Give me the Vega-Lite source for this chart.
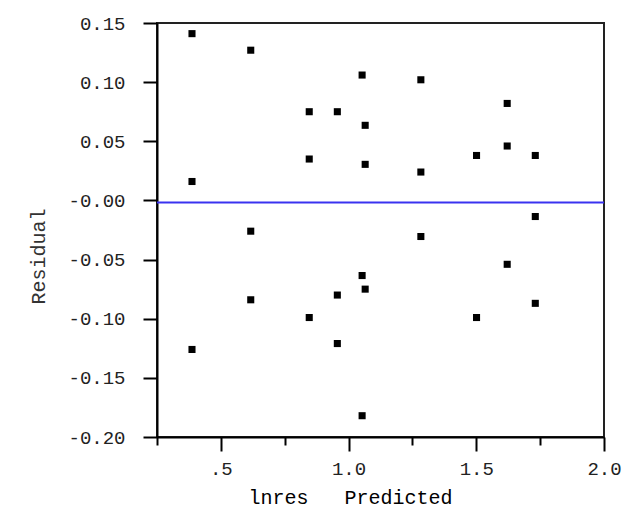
{
  "$schema": "https://vega.github.io/schema/vega-lite/v6.json",
  "width": 447,
  "height": 414,
  "autosize": {"type": "none"},
  "padding": {"left": 157, "top": 23, "right": 22, "bottom": 92},
  "background": "white",
  "config": {
    "view": {"stroke": "#222222", "strokeWidth": 2},
    "axis": {"labelFont": "Liberation Mono", "titleFont": "Liberation Mono", "grid": false}
  },
  "datasets": {
    "resid": [
      {"predicted": 0.387, "residual": 0.141},
      {"predicted": 0.387, "residual": 0.016},
      {"predicted": 0.387, "residual": -0.126},
      {"predicted": 0.617, "residual": 0.127},
      {"predicted": 0.617, "residual": -0.026},
      {"predicted": 0.617, "residual": -0.084},
      {"predicted": 0.846, "residual": 0.075},
      {"predicted": 0.846, "residual": 0.035},
      {"predicted": 0.846, "residual": -0.099},
      {"predicted": 0.956, "residual": 0.075},
      {"predicted": 0.956, "residual": -0.080},
      {"predicted": 0.956, "residual": -0.121},
      {"predicted": 1.053, "residual": 0.106},
      {"predicted": 1.053, "residual": -0.0635},
      {"predicted": 1.053, "residual": -0.182},
      {"predicted": 1.065, "residual": 0.0635},
      {"predicted": 1.065, "residual": 0.0305},
      {"predicted": 1.065, "residual": -0.075},
      {"predicted": 1.283, "residual": 0.102},
      {"predicted": 1.283, "residual": 0.024},
      {"predicted": 1.283, "residual": -0.0305},
      {"predicted": 1.501, "residual": 0.038},
      {"predicted": 1.501, "residual": -0.099},
      {"predicted": 1.621, "residual": 0.082},
      {"predicted": 1.621, "residual": 0.046},
      {"predicted": 1.621, "residual": -0.054},
      {"predicted": 1.731, "residual": 0.038},
      {"predicted": 1.731, "residual": -0.0136},
      {"predicted": 1.731, "residual": -0.087}
    ],
    "minor": [
      {"predicted": 0.25},
      {"predicted": 0.75},
      {"predicted": 1.25},
      {"predicted": 1.75}
    ],
    "zeroline": [
      {"residual": -0.0017}
    ]
  },
  "layer": [
    {
      "data": {"name": "zeroline"},
      "mark": {"type": "rule", "color": "#3a32f0", "strokeWidth": 2},
      "encoding": {
        "y": {"field": "residual", "type": "quantitative"}
      }
    },
    {
      "data": {"name": "resid"},
      "mark": {"type": "point", "shape": "square", "filled": true, "color": "black", "size": 50, "opacity": 1, "strokeWidth": 0},
      "encoding": {
        "x": {
          "field": "predicted",
          "type": "quantitative",
          "scale": {"domain": [0.25, 2.0], "nice": false, "zero": false},
          "axis": {
            "orient": "bottom",
            "values": [0.5, 1.0, 1.5, 2.0],
            "tickSize": 14,
            "tickWidth": 2,
            "tickColor": "black",
            "domainColor": "black",
            "domainWidth": 2,
            "labelPadding": 23,
            "labelBaseline": "alphabetic",
            "labelFontSize": 19,
            "labelColor": "#222222",
            "labelFlush": false,
            "labelOverlap": false,
            "labelBound": false,
            "labelExpr": "datum.value == 0.5 ? '.5' : format(datum.value, '.1f')",
            "title": "lnres\u00a0\u00a0\u00a0Predicted",
            "titleFontSize": 20,
            "titleFontWeight": "normal",
            "titleColor": "black",
            "titleX": 193,
            "titleY": 66,
            "titleAlign": "center",
            "titleBaseline": "alphabetic"
          }
        },
        "y": {
          "field": "residual",
          "type": "quantitative",
          "scale": {"domain": [-0.2, 0.15], "nice": false, "zero": false},
          "axis": {
            "values": [-0.2, -0.15, -0.1, -0.05, 0, 0.05, 0.1, 0.15],
            "tickSize": 14,
            "tickWidth": 2,
            "tickColor": "black",
            "domainColor": "black",
            "domainWidth": 2,
            "labelPadding": 18,
            "labelFontSize": 19,
            "labelColor": "#222222",
            "labelAlign": "right",
            "labelBaseline": "middle",
            "labelFlush": false,
            "labelOverlap": false,
            "labelBound": false,
            "labelExpr": "datum.value == 0 ? '-0.00' : (datum.value < 0 ? '-' : '') + format(abs(datum.value), '.2f')",
            "title": "Residual",
            "titleFontSize": 20,
            "titleFontWeight": "normal",
            "titleColor": "#333333",
            "titleAngle": -90,
            "titleX": -113,
            "titleY": 233,
            "titleAlign": "center",
            "titleBaseline": "alphabetic"
          }
        }
      }
    },
    {
      "data": {"name": "minor"},
      "mark": {"type": "point", "opacity": 0},
      "encoding": {
        "x": {
          "field": "predicted",
          "type": "quantitative",
          "axis": {
            "orient": "bottom",
            "values": [0.25, 0.75, 1.25, 1.75],
            "tickSize": 8,
            "tickWidth": 2,
            "tickColor": "black",
            "domain": false,
            "labels": false,
            "title": null
          }
        }
      }
    }
  ],
  "resolve": {"axis": {"x": "independent"}}
}
